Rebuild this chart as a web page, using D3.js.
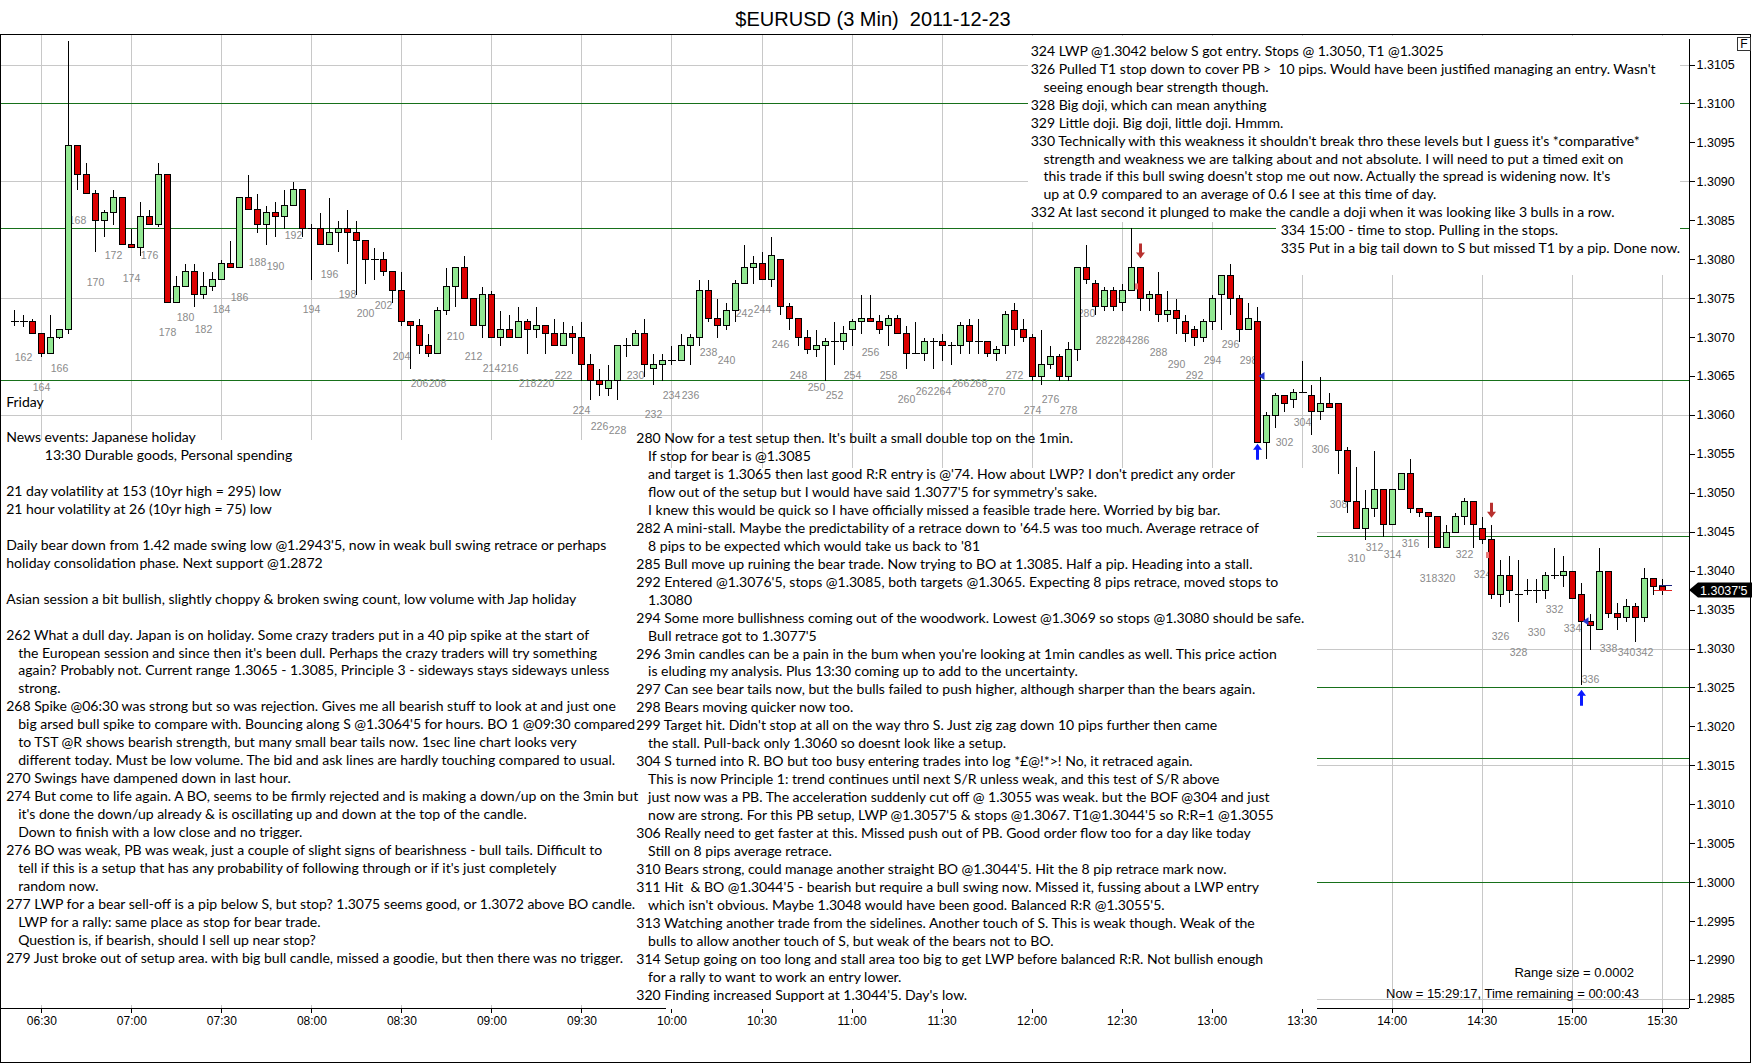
<!DOCTYPE html>
<html><head><meta charset="utf-8">
<script src="https://cdn.jsdelivr.net/npm/d3@7/dist/d3.min.js"></script>
<style>body{margin:0;background:#fff}svg{display:block}text{white-space:pre}</style>
</head><body>
<svg id="chart" width="1752" height="1064"></svg>
<script>
// ---------------- DATA ----------------
const firstBar = 161;           // bar number of the first candle (06:21)
const opens = [
1.30721,1.30721,1.30721,1.30705,1.3068,1.307,1.3071,1.30946,1.3091,1.30885,
1.3085,1.3086,1.3088,1.3082,1.30815,1.30855,1.30845,1.3091,1.30745,1.30765,
1.30785,1.30755,1.30765,1.30775,1.30795,1.3079,1.3088,1.30865,1.30845,1.3086,
1.30855,1.3087,1.3089,1.3084,1.3084,1.3082,1.30835,1.3084,1.30835,1.30825,
1.308,1.308,1.30785,1.3076,1.3072,1.30715,1.3069,1.3068,1.30735,1.30765,
1.3079,1.3075,1.30715,1.30755,1.307,1.3071,1.307,1.3072,1.3071,1.30715,
1.30705,1.3069,1.30705,1.307,1.30665,1.30645,1.30635,1.30645,1.3069,1.3069,
1.30705,1.3066,1.30665,1.3067,1.3067,1.3069,1.307,1.3076,1.30725,1.30715,
1.30735,1.3077,1.3079,1.30795,1.30775,1.308,1.3074,1.30725,1.307,1.30685,
1.3069,1.30695,1.30695,1.3071,1.3072,1.30725,1.3072,1.30715,1.30725,1.30705,
1.3068,1.3068,1.30695,1.30695,1.3069,1.3069,1.30715,1.30695,1.30695,1.3068,
1.3069,1.30735,1.3071,1.307,1.3065,1.30665,1.30675,1.3065,1.30685,1.3079,
1.3077,1.3074,1.3076,1.30745,1.3076,1.3079,1.3075,1.30755,1.3073,1.30735,
1.3072,1.3071,1.307,1.3072,1.30755,1.3078,1.3075,1.3071,1.3072,1.30565,
1.306,1.30625,1.3062,1.3063,1.30625,1.30605,1.30615,1.30615,1.30555,1.3049,
1.30455,1.3048,1.30505,1.3046,1.30505,1.30525,1.3048,1.30475,1.3047,1.3043,
1.3045,1.3047,1.3049,1.30455,1.3044,1.3037,1.30395,1.3037,1.30375,1.30375,
1.30375,1.30395,1.30395,1.30399,1.3037,1.30335,1.30325,1.30399,1.30346,1.3034,
1.30355,1.3034,1.3039,1.3038];
const highs = [
1.30736,1.3073,1.30725,1.30705,1.3073,1.3071,1.31082,1.30946,1.30925,1.3089,
1.30865,1.3089,1.3088,1.3084,1.30875,1.30865,1.30925,1.3091,1.3078,1.30795,
1.30795,1.30785,1.30785,1.308,1.30825,1.3088,1.3091,1.30885,1.3087,1.30875,
1.3089,1.309,1.3089,1.30847,1.3086,1.3088,1.3085,1.30865,1.3085,1.30825,
1.30815,1.3081,1.30785,1.30785,1.3072,1.30725,1.30705,1.3074,1.3079,1.3079,
1.30805,1.3075,1.30765,1.3076,1.30735,1.3073,1.3074,1.30725,1.3074,1.30715,
1.30725,1.3072,1.30715,1.3072,1.3068,1.3066,1.30665,1.3069,1.307,1.3071,
1.30725,1.3068,1.3068,1.3069,1.30705,1.30705,1.30775,1.30775,1.3075,1.30745,
1.30775,1.3082,1.30805,1.3081,1.3083,1.308,1.30745,1.30725,1.3071,1.3071,
1.307,1.3072,1.30715,1.30725,1.30755,1.30755,1.3073,1.3073,1.3073,1.30715,
1.3072,1.307,1.307,1.30705,1.30695,1.3072,1.30725,1.30725,1.30695,1.3069,
1.30735,1.30745,1.30725,1.30705,1.3071,1.3069,1.3068,1.30695,1.3079,1.3082,
1.30775,1.30765,1.30765,1.3077,1.30841,1.3079,1.3076,1.30785,1.3076,1.3075,
1.3073,1.30715,1.30725,1.30755,1.3078,1.30795,1.30755,1.30745,1.3074,1.30605,
1.3063,1.30625,1.30635,1.3067,1.3064,1.3065,1.3063,1.30615,1.3056,1.30535,
1.30505,1.30555,1.30505,1.30505,1.30525,1.30545,1.3048,1.30475,1.3047,1.3046,
1.30475,1.30495,1.3049,1.3047,1.3046,1.30415,1.3042,1.30415,1.3039,1.3039,
1.304,1.3043,1.3042,1.304,1.30385,1.30345,1.3043,1.30399,1.3036,1.30365,
1.3036,1.30405,1.3039,1.3039];
const lows = [
1.30715,1.30714,1.30705,1.30675,1.3068,1.30699,1.30705,1.3089,1.30885,1.3081,
1.3083,1.30845,1.3082,1.30815,1.30805,1.30845,1.30842,1.30745,1.30745,1.30765,
1.3074,1.3075,1.3076,1.30775,1.3079,1.3079,1.30865,1.30835,1.3082,1.3083,
1.3084,1.3087,1.3083,1.30775,1.3082,1.3082,1.3081,1.30795,1.30755,1.3077,
1.30775,1.3078,1.30745,1.30715,1.3066,1.3068,1.30675,1.3068,1.3073,1.3074,
1.3075,1.30715,1.307,1.307,1.3069,1.307,1.307,1.3068,1.307,1.3068,
1.3069,1.3069,1.3068,1.30645,1.3062,1.30625,1.30625,1.3062,1.30675,1.3069,
1.3065,1.3064,1.30645,1.30665,1.3067,1.30665,1.3069,1.3072,1.307,1.3071,
1.3072,1.3077,1.3077,1.30775,1.30765,1.3073,1.3071,1.3069,1.3068,1.30675,
1.30645,1.30665,1.30685,1.3069,1.30705,1.3072,1.30705,1.3069,1.30705,1.3066,
1.3068,1.3067,1.3066,1.3067,1.30665,1.3068,1.3068,1.3068,1.30675,1.3067,
1.3068,1.3069,1.30695,1.30645,1.3064,1.3066,1.30645,1.30645,1.3067,1.3077,
1.3073,1.30735,1.30735,1.30735,1.3076,1.30735,1.30735,1.3072,1.3072,1.30705,
1.30695,1.3069,1.30695,1.3071,1.3071,1.3073,1.30695,1.3071,1.30565,1.30545,
1.30585,1.30605,1.3061,1.3063,1.30575,1.30595,1.3061,1.30525,1.30475,1.30455,
1.3044,1.3047,1.30445,1.3046,1.30505,1.30475,1.3047,1.3043,1.3043,1.3043,
1.3045,1.3046,1.3043,1.30435,1.30365,1.30355,1.3036,1.30335,1.3037,1.3036,
1.30365,1.3039,1.3038,1.30365,1.30255,1.303,1.30325,1.3034,1.30325,1.30335,
1.3031,1.30335,1.3037,1.3037];
const closes = [
1.30721,1.30721,1.30705,1.3068,1.307,1.3071,1.30946,1.3091,1.30885,1.3085,
1.3086,1.3088,1.3082,1.30815,1.30855,1.30845,1.3091,1.30745,1.30765,1.30785,
1.30755,1.30765,1.30775,1.30795,1.3079,1.3088,1.30865,1.30845,1.3086,1.30855,
1.3087,1.3089,1.3084,1.3084,1.3082,1.30835,1.3084,1.30835,1.30825,1.308,
1.308,1.30785,1.3076,1.3072,1.30715,1.3069,1.3068,1.30735,1.30765,1.3079,
1.3075,1.30715,1.30755,1.307,1.3071,1.307,1.3072,1.3071,1.30715,1.30705,
1.3069,1.30705,1.307,1.30665,1.30645,1.3064,1.30645,1.3069,1.3069,1.30705,
1.30665,1.30665,1.3067,1.3067,1.3069,1.307,1.3076,1.30725,1.30715,1.30735,
1.3077,1.3079,1.30795,1.30775,1.30805,1.3074,1.30725,1.307,1.30685,1.3069,
1.30695,1.30695,1.30705,1.3072,1.30725,1.3072,1.3071,1.30725,1.30705,1.3068,
1.3068,1.30695,1.30695,1.3069,1.3069,1.30715,1.30695,1.30695,1.3068,1.30685,
1.3073,1.3071,1.307,1.3065,1.30665,1.30675,1.3065,1.30685,1.3079,1.30775,
1.3074,1.3076,1.3074,1.3076,1.3079,1.3075,1.30755,1.3073,1.30735,1.30725,
1.30705,1.307,1.3072,1.3075,1.3078,1.3075,1.3071,1.30725,1.30565,1.306,
1.30625,1.30615,1.3063,1.3063,1.30605,1.30615,1.3061,1.30555,1.3049,1.30455,
1.3048,1.30505,1.3046,1.30505,1.30525,1.3048,1.30475,1.3047,1.3043,1.3045,
1.3047,1.3049,1.3046,1.3044,1.3037,1.30395,1.30375,1.3037,1.30375,1.30375,
1.30395,1.30395,1.30399,1.30365,1.30335,1.3033,1.30399,1.30345,1.3034,1.30355,
1.3034,1.3039,1.3038,1.30375];

const srLevels = [1.3100, 1.3084, 1.30645, 1.30445, 1.3025, 1.3016, 1.3000];   // green S/R lines
const gridPrices = [1.3105, 1.3090, 1.3075, 1.3060, 1.3045, 1.3030, 1.3015, 1.3000, 1.2985];
const priceTicks = [1.3105,1.3100,1.3095,1.3090,1.3085,1.3080,1.3075,1.3070,1.3065,1.3060,
  1.3055,1.3050,1.3045,1.3040,1.3035,1.3030,1.3025,1.3020,1.3015,1.3010,1.3005,1.3000,
  1.2995,1.2990,1.2985];
const timeTicks = ["06:30","07:00","07:30","08:00","08:30","09:00","09:30","10:00","10:30",
  "11:00","11:30","12:00","12:30","13:00","13:30","14:00","14:30","15:00","15:30"];
const lastPrice = 1.30375;
const bid = 1.30375, ask = 1.30380;
const downArrows = [{bar:286, price:1.30801}, {bar:325, price:1.30468}];
const upArrows   = [{bar:299, price:1.30563}, {bar:335, price:1.30247}];
const entryMarks = [{bar:299, price:1.3065}, {bar:335, price:1.30335}];
const exitMarks  = [{bar:286, price:1.30765}, {bar:325, price:1.3042}];

const title = "$EURUSD (3 Min)  2011-12-23";
const fridayNote = "Friday";
const leftNotes = [
 [0,"News events: Japanese holiday"],
 [2,"13:30 Durable goods, Personal spending"],
 [0,""],
 [0,"21 day volatility at 153 (10yr high = 295) low"],
 [0,"21 hour volatility at 26 (10yr high = 75) low"],
 [0,""],
 [0,"Daily bear down from 1.42 made swing low @1.2943'5, now in weak bull swing retrace or perhaps"],
 [0,"holiday consolidation phase. Next support @1.2872"],
 [0,""],
 [0,"Asian session a bit bullish, slightly choppy & broken swing count, low volume with Jap holiday"],
 [0,""],
 [0,"262 What a dull day. Japan is on holiday. Some crazy traders put in a 40 pip spike at the start of"],
 [1,"the European session and since then it's been dull. Perhaps the crazy traders will try something"],
 [1,"again? Probably not. Current range 1.3065 - 1.3085, Principle 3 - sideways stays sideways unless"],
 [1,"strong."],
 [0,"268 Spike @06:30 was strong but so was rejection. Gives me all bearish stuff to look at and just one"],
 [1,"big arsed bull spike to compare with. Bouncing along S @1.3064'5 for hours. BO 1 @09:30 compared"],
 [1,"to TST @R shows bearish strength, but many small bear tails now. 1sec line chart looks very"],
 [1,"different today. Must be low volume. The bid and ask lines are hardly touching compared to usual."],
 [0,"270 Swings have dampened down in last hour."],
 [0,"274 But come to life again. A BO, seems to be firmly rejected and is making a down/up on the 3min but"],
 [1,"it's done the down/up already & is oscillating up and down at the top of the candle."],
 [1,"Down to finish with a low close and no trigger."],
 [0,"276 BO was weak, PB was weak, just a couple of slight signs of bearishness - bull tails. Difficult to"],
 [1,"tell if this is a setup that has any probability of following through or if it's just completely"],
 [1,"random now."],
 [0,"277 LWP for a bear sell-off is a pip below S, but stop? 1.3075 seems good, or 1.3072 above BO candle."],
 [1,"LWP for a rally: same place as stop for bear trade."],
 [1,"Question is, if bearish, should I sell up near stop?"],
 [0,"279 Just broke out of setup area. with big bull candle, missed a goodie, but then there was no trigger."]
];
const middleNotes = [
 [0,"280 Now for a test setup then. It's built a small double top on the 1min."],
 [1,"If stop for bear is @1.3085"],
 [1,"and target is 1.3065 then last good R:R entry is @'74. How about LWP? I don't predict any order"],
 [1,"flow out of the setup but I would have said 1.3077'5 for symmetry's sake."],
 [1,"I knew this would be quick so I have officially missed a feasible trade here. Worried by big bar."],
 [0,"282 A mini-stall. Maybe the predictability of a retrace down to '64.5 was too much. Average retrace of"],
 [1,"8 pips to be expected which would take us back to '81"],
 [0,"285 Bull move up ruining the bear trade. Now trying to BO at 1.3085. Half a pip. Heading into a stall."],
 [0,"292 Entered @1.3076'5, stops @1.3085, both targets @1.3065. Expecting 8 pips retrace, moved stops to"],
 [1,"1.3080"],
 [0,"294 Some more bullishness coming out of the woodwork. Lowest @1.3069 so stops @1.3080 should be safe."],
 [1,"Bull retrace got to 1.3077'5"],
 [0,"296 3min candles can be a pain in the bum when you're looking at 1min candles as well. This price action"],
 [1,"is eluding my analysis. Plus 13:30 coming up to add to the uncertainty."],
 [0,"297 Can see bear tails now, but the bulls failed to push higher, although sharper than the bears again."],
 [0,"298 Bears moving quicker now too."],
 [0,"299 Target hit. Didn't stop at all on the way thro S. Just zig zag down 10 pips further then came"],
 [1,"the stall. Pull-back only 1.3060 so doesnt look like a setup."],
 [0,"304 S turned into R. BO but too busy entering trades into log *£@!*>! No, it retraced again."],
 [1,"This is now Principle 1: trend continues until next S/R unless weak, and this test of S/R above"],
 [1,"just now was a PB. The acceleration suddenly cut off @ 1.3055 was weak. but the BOF @304 and just"],
 [1,"now are strong. For this PB setup, LWP @1.3057'5 & stops @1.3067. T1@1.3044'5 so R:R=1 @1.3055"],
 [0,"306 Really need to get faster at this. Missed push out of PB. Good order flow too for a day like today"],
 [1,"Still on 8 pips average retrace."],
 [0,"310 Bears strong, could manage another straight BO @1.3044'5. Hit the 8 pip retrace mark now."],
 [0,"311 Hit  & BO @1.3044'5 - bearish but require a bull swing now. Missed it, fussing about a LWP entry"],
 [1,"which isn't obvious. Maybe 1.3048 would have been good. Balanced R:R @1.3055'5."],
 [0,"313 Watching another trade from the sidelines. Another touch of S. This is weak though. Weak of the"],
 [1,"bulls to allow another touch of S, but weak of the bears not to BO."],
 [0,"314 Setup going on too long and stall area too big to get LWP before balanced R:R. Not bullish enough"],
 [1,"for a rally to want to work an entry lower."],
 [0,"320 Finding increased Support at 1.3044'5. Day's low."]
];
const topNotes = [
 [0,"324 LWP @1.3042 below S got entry. Stops @ 1.3050, T1 @1.3025"],
 [0,"326 Pulled T1 stop down to cover PB >  10 pips. Would have been justified managing an entry. Wasn't"],
 [1,"seeing enough bear strength though."],
 [0,"328 Big doji, which can mean anything"],
 [0,"329 Little doji. Big doji, little doji. Hmmm."],
 [0,"330 Technically with this weakness it shouldn't break thro these levels but I guess it's *comparative*"],
 [1,"strength and weakness we are talking about and not absolute. I will need to put a timed exit on"],
 [1,"this trade if this bull swing doesn't stop me out now. Actually the spread is widening now. It's"],
 [1,"up at 0.9 compared to an average of 0.6 I see at this time of day."],
 [0,"332 At last second it plunged to make the candle a doji when it was looking like 3 bulls in a row."]
];
const topNotes2 = [
 [0,"334 15:00 - time to stop. Pulling in the stops."],
 [0,"335 Put in a big tail down to S but missed T1 by a pip. Done now."]
];
const rangeText = "Range size = 0.0002";
const nowText = "Now = 15:29:17, Time remaining = 00:00:43";

// ---------------- CHART ----------------
const svg = d3.select("#chart");
const W = 1752, H = 1064;
const plotRight = 1688.5, plotTop = 34.5, plotBottom = 1007.5;
const day = (h, m, s) => new Date(2011, 11, 23, h, m, s || 0);
const parseT = d3.timeParse("%H:%M");
const toDay = s => { const p = parseT(s); return day(p.getHours(), p.getMinutes()); };
const x = d3.scaleTime().domain([day(6,16,14), day(15,38,54)]).range([0, plotRight]);
const y = d3.scaleLinear().domain([1.3105, 1.2985]).range([64.5, 998.9]);
const barTime = n => new Date(day(6,30).getTime() + (n - 164) * 3 * 60000);
const bx = n => Math.round(x(barTime(n))) + 0.5;
const py = p => Math.round(y(p)) + 0.5;

const bars = opens.map((o, i) => ({n: firstBar + i, o, h: highs[i], l: lows[i], c: closes[i]}));

const FONT = "'Liberation Sans', Arial, sans-serif";
const NOTE_FONT = "Lato, 'Open Sans', sans-serif";

svg.append("rect").attr("width", W).attr("height", H).attr("fill", "#fff");

const g = svg.append("g").attr("shape-rendering", "crispEdges");
// vertical gridlines
g.selectAll(".vg").data(timeTicks).join("line")
  .attr("x1", d => Math.round(x(toDay(d))) + 0.5).attr("x2", d => Math.round(x(toDay(d))) + 0.5)
  .attr("y1", plotTop).attr("y2", plotBottom).attr("stroke", "#c8c8c8");
// horizontal gridlines
g.selectAll(".hg").data(gridPrices).join("line")
  .attr("x1", 0).attr("x2", plotRight).attr("y1", d => py(d)).attr("y2", d => py(d))
  .attr("stroke", "#c8c8c8");
// S/R lines
g.selectAll(".sr").data(srLevels).join("line")
  .attr("x1", 0).attr("x2", plotRight).attr("y1", d => py(d)).attr("y2", d => py(d))
  .attr("stroke", "#17701a");

// bar number labels (drawn under the note boxes)
svg.append("g").selectAll("text").data(bars.filter(b => b.n % 2 === 0 && b.n <= 342)).join("text")
  .attr("x", d => bx(d.n)).attr("y", d => y(d.l) + 34.5)
  .attr("text-anchor", "middle").attr("font-family", FONT).attr("font-size", 10.5)
  .attr("fill", "#8a8a8a").text(d => d.n);

// white note boxes
const boxes = [[1, 440, 665, 565], [666, 468, 651, 541], [1028, 36, 652, 186], [1276, 222, 404, 53]];
svg.append("g").attr("shape-rendering", "crispEdges").selectAll(".box").data(boxes).join("rect")
  .attr("x", d => d[0]).attr("y", d => d[1]).attr("width", d => d[2]).attr("height", d => d[3])
  .attr("fill", "#fff");

// candles
const cg = svg.append("g").attr("shape-rendering", "crispEdges");
cg.selectAll(".wick").data(bars).join("line")
  .attr("x1", d => bx(d.n)).attr("x2", d => bx(d.n))
  .attr("y1", d => py(d.h)).attr("y2", d => py(d.l)).attr("stroke", "#000");
const bodies = bars.filter(d => Math.abs(d.o - d.c) > 1e-7);
cg.selectAll(".body").data(bodies).join("rect")
  .attr("x", d => bx(d.n) - 3).attr("width", 6)
  .attr("y", d => py(Math.max(d.o, d.c)))
  .attr("height", d => Math.max(1, py(Math.min(d.o, d.c)) - py(Math.max(d.o, d.c))))
  .attr("fill", d => d.c > d.o ? "#92e892" : "#dc0000").attr("stroke", "#000");
cg.selectAll(".doji").data(bars.filter(d => Math.abs(d.o - d.c) <= 1e-7)).join("line")
  .attr("x1", d => bx(d.n) - 4).attr("x2", d => bx(d.n) + 4)
  .attr("y1", d => py(d.o)).attr("y2", d => py(d.o)).attr("stroke", "#000");

// bid / ask lines on current bar
const last = bars[bars.length - 1];
cg.append("line").attr("x1", bx(last.n) - 9).attr("x2", bx(last.n) + 9)
  .attr("y1", py(bid)).attr("y2", py(bid)).attr("stroke", "#e02020").attr("stroke-width", 1.5);
cg.append("line").attr("x1", bx(last.n) - 4).attr("x2", bx(last.n) + 9)
  .attr("y1", py(ask) - 1).attr("y2", py(ask) - 1).attr("stroke", "#1a237e").attr("stroke-width", 1.5);

// markers
const mk = svg.append("g");
mk.selectAll(".da").data(downArrows).join("path")
  .attr("d", d => { const cx = bx(d.bar), ty = y(d.price);
    return `M${cx},${ty} L${cx-4.5},${ty-6} L${cx-1.5},${ty-6} L${cx-1.5},${ty-15} L${cx+1.5},${ty-15} L${cx+1.5},${ty-6} L${cx+4.5},${ty-6} Z`; })
  .attr("fill", "#b8312f");
mk.selectAll(".ua").data(upArrows).join("path")
  .attr("d", d => { const cx = bx(d.bar), ty = y(d.price);
    return `M${cx},${ty} L${cx-4.5},${ty+6} L${cx-1.5},${ty+6} L${cx-1.5},${ty+16} L${cx+1.5},${ty+16} L${cx+1.5},${ty+6} L${cx+4.5},${ty+6} Z`; })
  .attr("fill", "#0a1aff");
mk.selectAll(".en").data(entryMarks).join("path")
  .attr("d", d => { const cx = bx(d.bar) + 1, ty = y(d.price);
    return `M${cx},${ty} L${cx+6},${ty-4} L${cx+6},${ty+4} Z`; })
  .attr("fill", "#2233cc");
mk.selectAll(".ex").data(exitMarks).join("rect")
  .attr("x", d => bx(d.bar) - 5.5).attr("y", d => y(d.price) - 3).attr("width", 3).attr("height", 6)
  .attr("fill", "#e77b7b");

// frame
const fr = svg.append("g").attr("shape-rendering", "crispEdges").attr("stroke", "#000").attr("fill", "none");
fr.append("line").attr("x1", 0).attr("x2", 1750.5).attr("y1", plotTop).attr("y2", plotTop);
fr.append("line").attr("x1", 0.5).attr("x2", 0.5).attr("y1", plotTop).attr("y2", 1062.5);
fr.append("line").attr("x1", 1750.5).attr("x2", 1750.5).attr("y1", plotTop).attr("y2", 1062.5);
fr.append("line").attr("x1", 0).attr("x2", 1750.5).attr("y1", 1062.5).attr("y2", 1062.5);

// axes
const yAxis = d3.axisRight(y).tickValues(priceTicks).tickFormat(d3.format(".4f")).tickSize(6).tickPadding(2);
const ya = svg.append("g").attr("transform", `translate(${plotRight},0)`).call(yAxis);
ya.select(".domain").attr("d", `M0.5,39V${plotBottom}`).attr("stroke", "#000");
ya.selectAll("text").attr("font-family", FONT).attr("font-size", 12.5).attr("fill", "#000");
ya.attr("shape-rendering", "crispEdges");

const xAxis = d3.axisBottom(x).tickValues(timeTicks.map(toDay)).tickFormat(d3.timeFormat("%H:%M")).tickSize(5).tickPadding(4);
const xa = svg.append("g").attr("transform", `translate(0,${plotBottom})`).call(xAxis);
xa.select(".domain").attr("d", `M0,0.5H${plotRight + 0.5}`).attr("stroke", "#000");
xa.selectAll("text").attr("font-family", FONT).attr("font-size", 12).attr("fill", "#000");
xa.attr("shape-rendering", "crispEdges");

// middle note box covers the x-axis line between its edges
svg.append("rect").attr("x", 666).attr("y", plotBottom - 1).attr("width", 651).attr("height", 2.5).attr("fill", "#fff");

// last price tag
const ly = y(lastPrice);
svg.append("path")
  .attr("d", `M1689,${ly} L1698,${ly-7.5} L1752,${ly-7.5} L1752,${ly+7.5} L1698,${ly+7.5} Z`)
  .attr("fill", "#000");
svg.append("text").attr("x", 1700).attr("y", ly + 4.5).attr("font-family", FONT)
  .attr("font-size", 12.5).attr("fill", "#fff").text("1.3037'5");

// F box
svg.append("rect").attr("x", 1737.5).attr("y", 37.5).attr("width", 13).attr("height", 12.5)
  .attr("fill", "#fff").attr("stroke", "#333").attr("shape-rendering", "crispEdges");
svg.append("text").attr("x", 1744).attr("y", 48).attr("text-anchor", "middle")
  .attr("font-family", FONT).attr("font-size", 12).text("F");

// title
svg.append("text").attr("x", 873).attr("y", 26).attr("text-anchor", "middle")
  .attr("font-family", FONT).attr("font-size", 20).attr("fill", "#000").text(title);

// range / time texts
svg.append("text").attr("x", 1634).attr("y", 977).attr("text-anchor", "end")
  .attr("font-family", FONT).attr("font-size", 13).text(rangeText);
svg.append("text").attr("x", 1639).attr("y", 998).attr("text-anchor", "end")
  .attr("font-family", FONT).attr("font-size", 13).text(nowText);

// notes
const NS = 13.6, STEP = 17.95;
const allNotes = [];
function block(lines, x0, y0, indent) {
  lines.forEach((l, i) => {
    if (!l[1]) return;
    const t = svg.append("text").attr("font-family", NOTE_FONT).attr("font-size", NS)
      .attr("fill", "#000").text(l[1]);
    allNotes.push({el: t, x: x0 + indent[l[0]], y: y0 + i * STEP + 4.8, txt: l[1]});
  });
}
block([[0, fridayNote]], 6.2, 401.7, [0]);
block(leftNotes, 6.2, 437.3, [0, 12, 38.6]);
block(middleNotes, 636.3, 438.3, [0, 11.8]);
block(topNotes, 1030.7, 51, [0, 12.8]);
block(topNotes2, 1280.7, 230.3, [0]);

const refs = [
  [leftNotes[29][1], 619.8], [middleNotes[14][1], 620.8], [topNotes[9][1], 584.2], [leftNotes[20][1], 629.4]
];
let tgt = 0, meas = 0;
refs.forEach(([s, w]) => {
  const n = allNotes.find(a => a.txt === s);
  if (n) { tgt += w; meas += n.el.node().getComputedTextLength(); }
});
const k = meas > 0 ? tgt / meas : 1;
allNotes.forEach(a => a.el.attr("transform", `translate(${a.x},${a.y}) scale(${k},1)`));
</script>
</body></html>
